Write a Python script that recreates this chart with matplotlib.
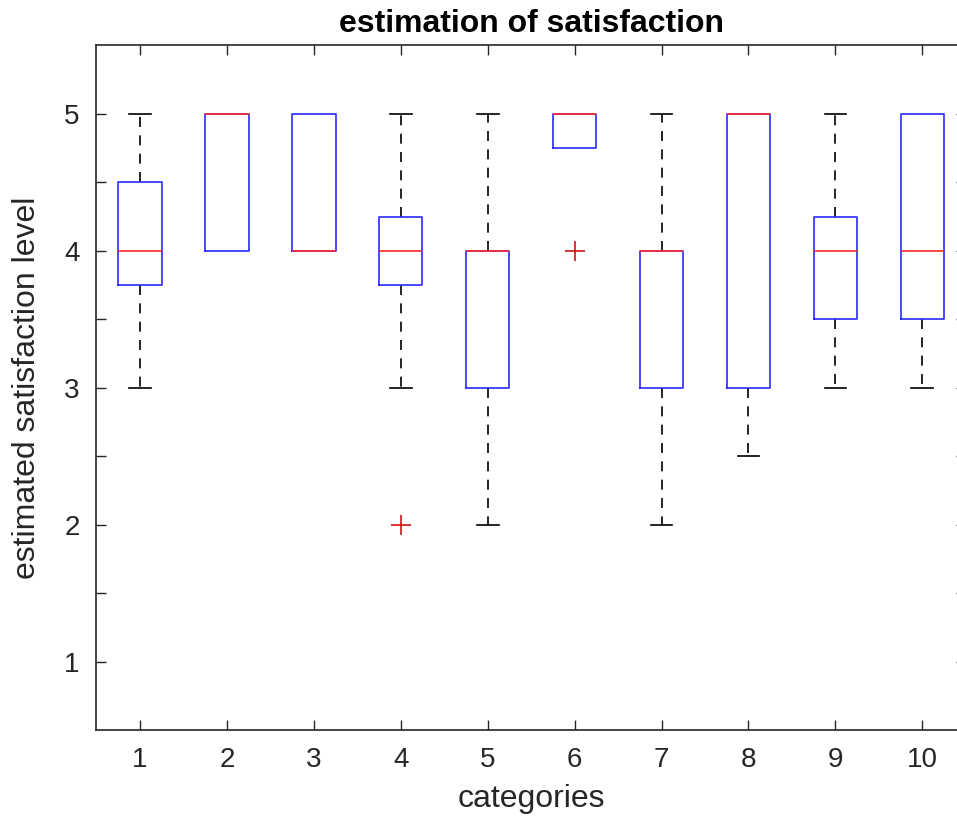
import numpy as np
import matplotlib.pyplot as plt

plt.rcParams['font.family'] = ['Liberation Sans', 'DejaVu Sans']

categories = [1, 2, 3, 4, 5, 6, 7, 8, 9, 10]
q1 = [3.75, 4.0, 4.0, 3.75, 3.0, 4.75, 3.0, 3.0, 3.5, 3.5]
med = [4.0, 5.0, 4.0, 4.0, 4.0, 5.0, 4.0, 5.0, 4.0, 4.0]
q3 = [4.5, 5.0, 5.0, 4.25, 4.0, 5.0, 4.0, 5.0, 4.25, 5.0]
whislo = [3.0, 4.0, 4.0, 3.0, 2.0, 4.75, 2.0, 2.5, 3.0, 3.0]
whishi = [5.0, 5.0, 5.0, 5.0, 5.0, 5.0, 5.0, 5.0, 5.0, 5.0]
outliers = [[], [], [], [2.0], [], [4.0], [], [], [], []]

stats = []
for i in range(len(categories)):
    stats.append({'q1': q1[i], 'med': med[i], 'q3': q3[i],
                  'whislo': whislo[i], 'whishi': whishi[i],
                  'fliers': outliers[i], 'label': str(categories[i])})

axcol = '#262626'
fig = plt.figure(figsize=(9.57, 8.18), dpi=100)
ax = fig.add_axes([0.1008, 0.1076, 0.9084, 0.8368])

bp = ax.bxp(stats, positions=categories, widths=0.5, capwidths=0.25,
            boxprops=dict(color='#2a2aff', linewidth=1.2, zorder=3),
            medianprops=dict(color='#ff2a2a', linewidth=1.2, zorder=4),
            whiskerprops=dict(color='black', linewidth=1.2, linestyle=(0, (6, 5)), zorder=2),
            capprops=dict(color='black', linewidth=1.2, zorder=1),
            flierprops=dict(marker='+', markeredgecolor='#d01010', markersize=14,
                            markeredgewidth=1.2, linestyle='none'),
            showfliers=True)

# caps that fall on a box edge are hidden by the box in the original
for i in range(len(categories)):
    if whislo[i] == q1[i]:
        bp['caps'][2 * i].set_visible(False)
    if whishi[i] == q3[i]:
        bp['caps'][2 * i + 1].set_visible(False)

ax.set_xlim(0.5, 10.5)
ax.set_ylim(0.5, 5.5)
ax.set_xticks(categories)
ax.set_xticklabels([str(c) for c in categories])
yt = np.arange(1, 5.01, 0.5)
ax.set_yticks(yt)
ax.set_yticklabels([str(int(v)) if v == int(v) else '' for v in yt])

ax.tick_params(direction='in', top=True, right=True, length=7, width=1,
               colors=axcol, labelsize=20, pad=12)
for s in ax.spines.values():
    s.set_color(axcol)
    s.set_linewidth(1.2)

ax.set_title('estimation of satisfaction', fontsize=23, fontweight='bold',
             color='black', pad=10)
ax.set_xlabel('categories', fontsize=23, color=axcol, labelpad=8)
ax.set_ylabel('estimated satisfaction level', fontsize=23, color=axcol, labelpad=16)

fig.savefig('out.png', dpi=100)
